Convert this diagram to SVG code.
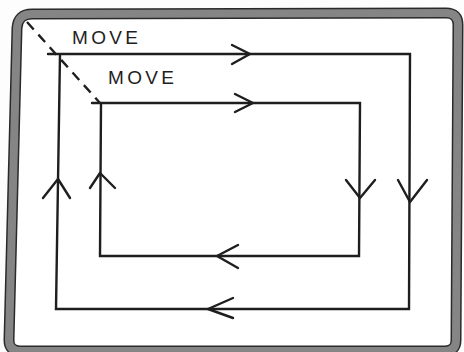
<svg xmlns="http://www.w3.org/2000/svg" width="464" height="352" viewBox="0 0 464 352">
<style>
.ln{fill:none;stroke:#1e1e1e;stroke-width:2.4;stroke-linejoin:miter;stroke-linecap:round}
.ar{fill:none;stroke:#1e1e1e;stroke-width:2.4;stroke-linecap:round;stroke-linejoin:round}
.lbl{font-family:"Liberation Sans",Arial,sans-serif;font-size:19px;fill:#1e1e1e;letter-spacing:3.3px}
</style>
<rect width="464" height="352" fill="#fdfdfd"/>
<g id="frame">
<path d="M32,14 L446,13 Q458,13 458,25 L456,340 Q456,351 445,351 L20,351 Q9,351 9,340 L17,28 Q18,14 32,14 Z" fill="#fff" stroke="#2a2a2a" stroke-width="11"/>
<path d="M32,14 L446,13 Q458,13 458,25 L456,340 Q456,351 445,351 L20,351 Q9,351 9,340 L17,28 Q18,14 32,14 Z" fill="none" stroke="#858585" stroke-width="8"/>
</g>
<g id="connectors">
<line x1="27" y1="22" x2="100" y2="103" stroke="#1e1e1e" stroke-width="2.4" stroke-dasharray="10,7"/>
<g id="outer">
<path class="ln" d="M48,54 L410,54 L409,309 L56,309 L60,54"/>
<path class="ar" d="M232,45 L250,54 L232,64"/>
<path class="ar" d="M398,180 L410,202 L427,180"/>
<path class="ar" d="M233,298 L208,309 L233,318"/>
<path class="ar" d="M43,198 L58,179 L70,198"/>
</g>
<g id="inner">
<path class="ln" d="M92,103 L360,103 L359,256 L100,256 L101,103"/>
<path class="ar" d="M235,94 L253,103 L235,112"/>
<path class="ar" d="M346,180 L360,198 L375,180"/>
<path class="ar" d="M238,245 L217,256 L238,268"/>
<path class="ar" d="M90,188 L100,173 L115,188"/>
</g>
</g>
<g id="label1"><text class="lbl" x="72" y="44">MOVE</text></g>
<g id="label2"><text class="lbl" x="108" y="84">MOVE</text></g>
</svg>
